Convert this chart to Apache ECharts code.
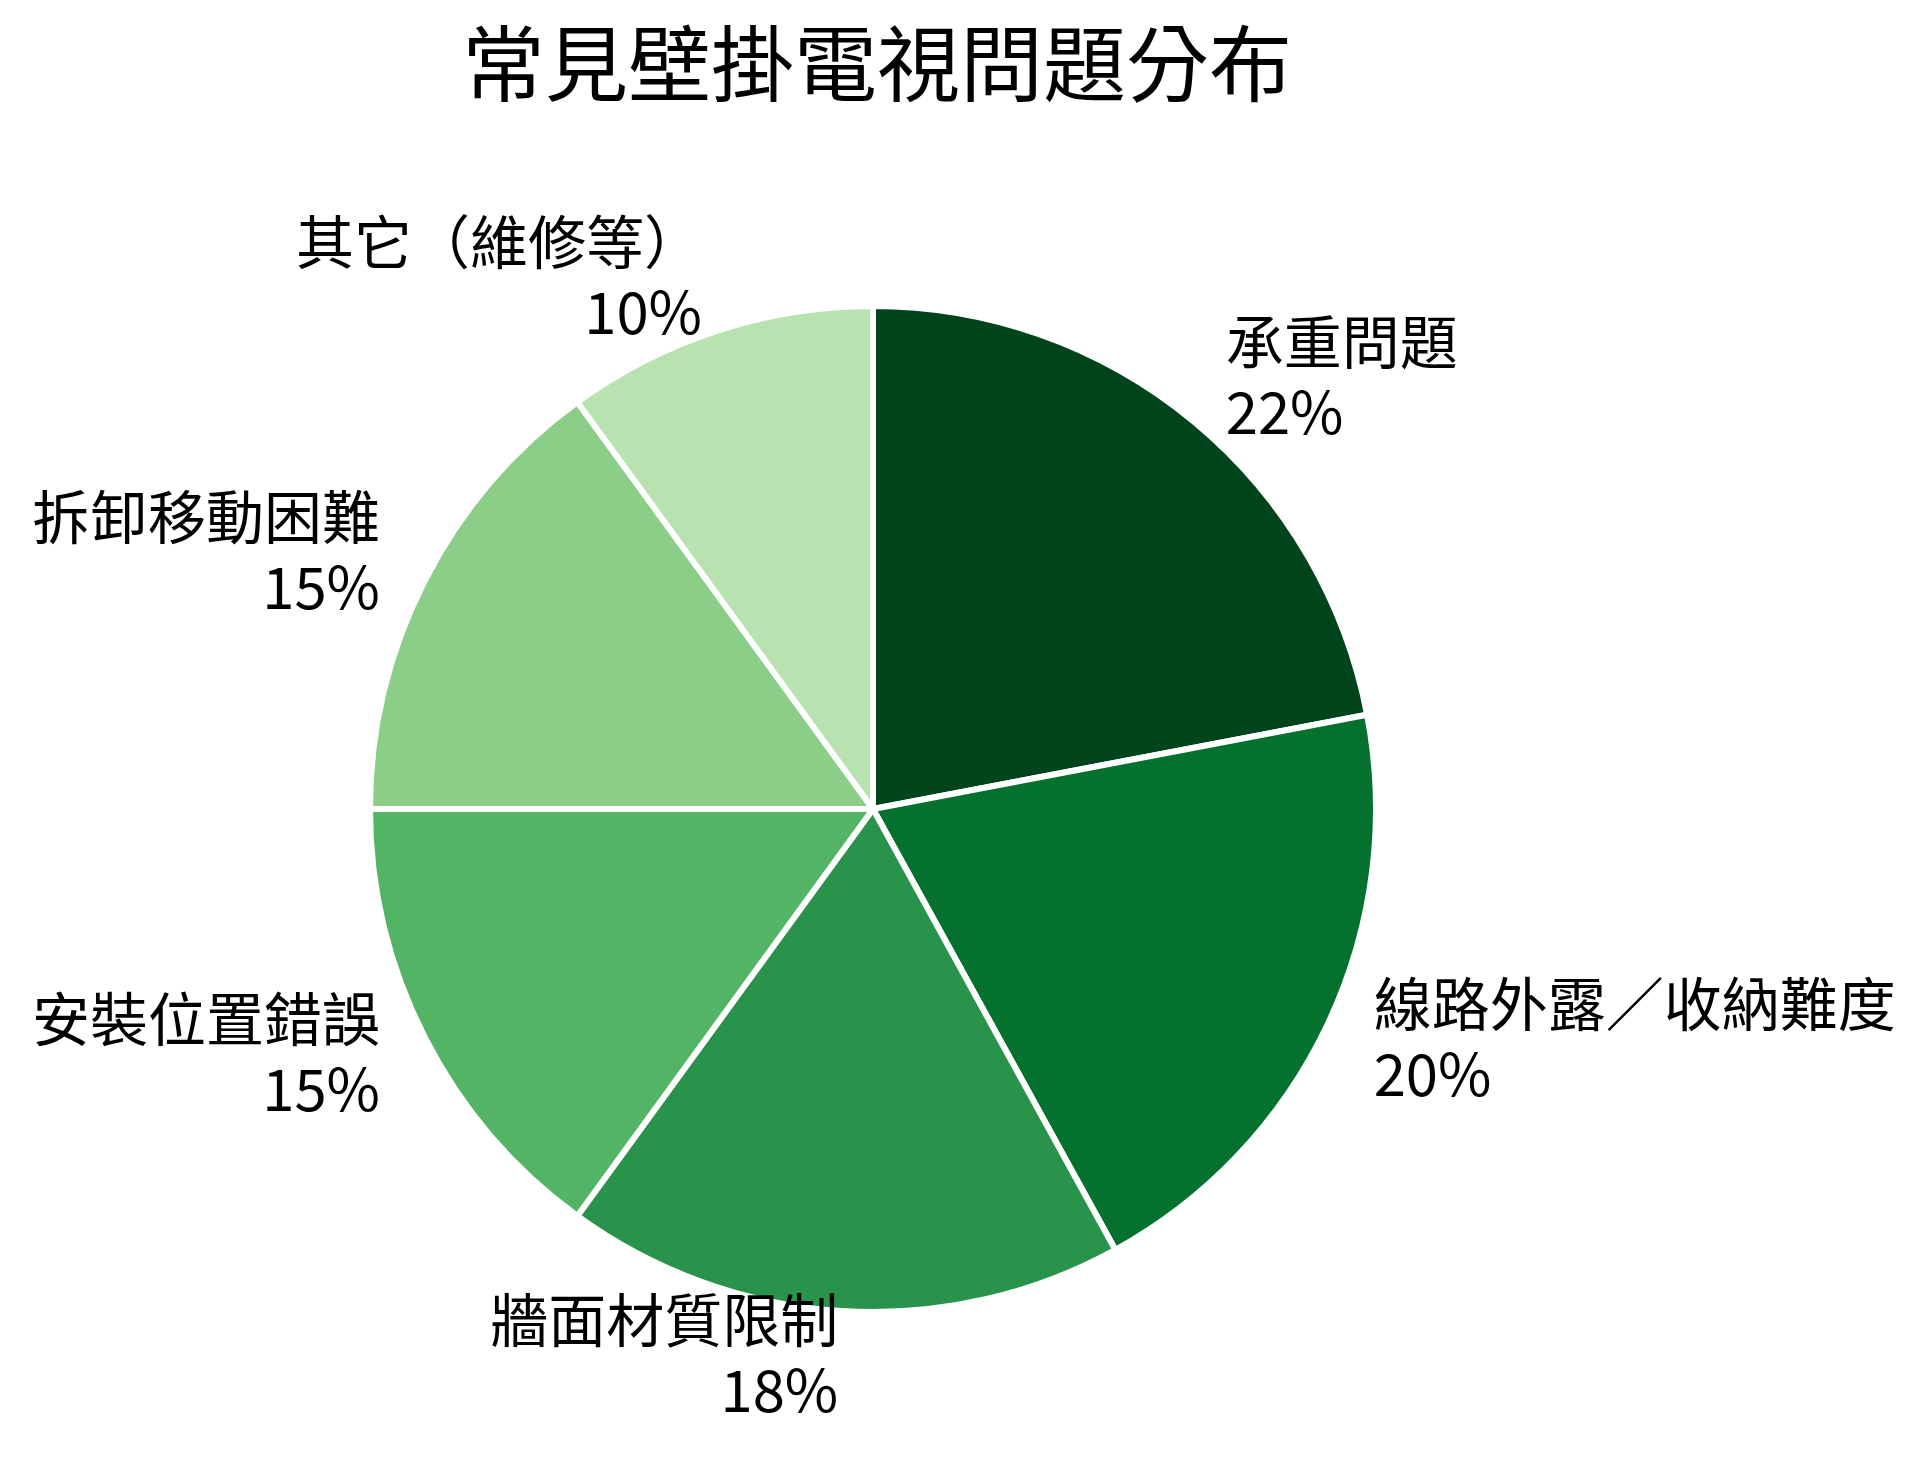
<!DOCTYPE html>
<html>
<head>
<meta charset="utf-8">
<style>
  html, body { margin: 0; padding: 0; background: #ffffff; }
  #chart { width: 1929px; height: 1468px; }
</style>
<script src="https://cdn.jsdelivr.net/npm/echarts@6/dist/echarts.min.js"></script>
</head>
<body>
<div id="chart"></div>
<script>
const titleText = '常見壁掛電視問題分布';
const categories = ['承重問題', '線路外露／收納難度', '牆面材質限制', '安裝位置錯誤', '拆卸移動困難', '其它（維修等）'];
const values = [22, 20, 18, 15, 15, 10];
const colors = ['#00441b', '#04712f', '#2a934b', '#53b466', '#8ace88', '#b8e3b1'];

const FONT = '"Noto Sans CJK TC", "Noto Sans CJK SC", "Noto Sans", sans-serif';
const R = 503;

const chart = echarts.init(document.getElementById('chart'), null, { renderer: 'canvas' });
chart.setOption({
  backgroundColor: '#ffffff',
  animation: false,
  title: {
    text: titleText,
    left: 462,
    top: 22,
    padding: 0,
    textStyle: { fontFamily: FONT, fontSize: 83, fontWeight: 'normal', color: '#000000' }
  },
  series: [{
    type: 'pie',
    center: [873, 809],
    radius: [0, R],
    startAngle: 90,
    clockwise: true,
    avoidLabelOverlap: false,
    silent: true,
    data: categories.map((name, i) => ({
      name: name,
      value: values[i],
      itemStyle: { color: colors[i] }
    })),
    itemStyle: { borderColor: '#ffffff', borderWidth: 6 },
    label: {
      show: true,
      position: 'outside',
      formatter: '{b}\n{c}%',
      fontFamily: FONT,
      fontSize: 58,
      lineHeight: 70,
      color: '#000000',
      distanceToLabelLine: 0
    },
    labelLayout: { dy: -6 },
    labelLine: { show: false, length: 0.1 * R, length2: 0 },
    emphasis: { disabled: true }
  }]
});
</script>
</body>
</html>
